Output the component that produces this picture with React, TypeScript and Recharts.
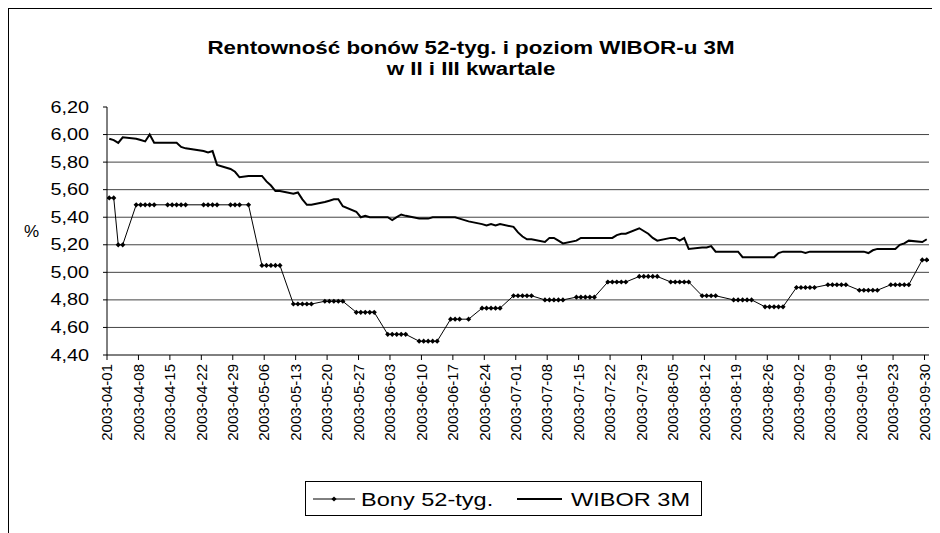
import {
    LineChart,
    Line,
    XAxis,
    YAxis,
    CartesianGrid,
} from "recharts";

// business days 2003-04-01 .. 2003-09-30 (Polish holidays skipped)
const START = Date.UTC(2003, 3, 1);
const DAY = 86400000;
const holidays = ["2003-04-21", "2003-05-01", "2003-06-19", "2003-08-15"];

// Bony 52-tyg., one value per business day, week by week
const bony = [
    5.54, 5.54, 5.2, 5.2,
    5.49, 5.49, 5.49, 5.49, 5.49,
    5.49, 5.49, 5.49, 5.49, 5.49,
    5.49, 5.49, 5.49, 5.49,
    5.49, 5.49, 5.49, 5.49,
    5.05, 5.05, 5.05, 5.05, 5.05,
    4.77, 4.77, 4.77, 4.77, 4.77,
    4.79, 4.79, 4.79, 4.79, 4.79,
    4.71, 4.71, 4.71, 4.71, 4.71,
    4.55, 4.55, 4.55, 4.55, 4.55,
    4.5, 4.5, 4.5, 4.5, 4.5,
    4.66, 4.66, 4.66, 4.66,
    4.74, 4.74, 4.74, 4.74, 4.74,
    4.83, 4.83, 4.83, 4.83, 4.83,
    4.8, 4.8, 4.8, 4.8, 4.8,
    4.82, 4.82, 4.82, 4.82, 4.82,
    4.93, 4.93, 4.93, 4.93, 4.93,
    4.97, 4.97, 4.97, 4.97, 4.97,
    4.93, 4.93, 4.93, 4.93, 4.93,
    4.83, 4.83, 4.83, 4.83,
    4.8, 4.8, 4.8, 4.8, 4.8,
    4.75, 4.75, 4.75, 4.75, 4.75,
    4.89, 4.89, 4.89, 4.89, 4.89,
    4.91, 4.91, 4.91, 4.91, 4.91,
    4.87, 4.87, 4.87, 4.87, 4.87,
    4.91, 4.91, 4.91, 4.91, 4.91,
    5.09, 5.09,
];

// WIBOR 3M
const wibor = [
    5.97, 5.96, 5.94, 5.98,
    5.97, 5.96, 5.95, 6.0, 5.94,
    5.94, 5.94, 5.94, 5.91, 5.9,
    5.88, 5.87, 5.88, 5.78,
    5.75, 5.73, 5.69, 5.7,
    5.7, 5.66, 5.63, 5.59, 5.59,
    5.57, 5.58, 5.53, 5.49, 5.49,
    5.51, 5.52, 5.53, 5.53, 5.48,
    5.44, 5.4, 5.41, 5.4, 5.4,
    5.4, 5.38, 5.4, 5.42, 5.41,
    5.39, 5.39, 5.39, 5.4, 5.4,
    5.4, 5.4, 5.39, 5.37,
    5.35, 5.34, 5.35, 5.34, 5.35,
    5.33, 5.29, 5.26, 5.24, 5.24,
    5.22, 5.25, 5.25, 5.23, 5.21,
    5.23, 5.25, 5.25, 5.25, 5.25,
    5.25, 5.25, 5.27, 5.28, 5.28,
    5.32, 5.3, 5.28, 5.25, 5.23,
    5.25, 5.25, 5.23, 5.25, 5.17,
    5.18, 5.18, 5.19, 5.15,
    5.15, 5.15, 5.11, 5.11, 5.11,
    5.11, 5.11, 5.11, 5.14, 5.15,
    5.15, 5.15, 5.14, 5.15, 5.15,
    5.15, 5.15, 5.15, 5.15, 5.15,
    5.15, 5.15, 5.14, 5.16, 5.17,
    5.17, 5.17, 5.2, 5.21, 5.23,
    5.22, 5.24,
];

const yTicks = [4.4, 4.6, 4.8, 5.0, 5.2, 5.4, 5.6, 5.8, 6.0, 6.2];
const gridValues = [4.6, 4.8, 5.0, 5.2, 5.4, 5.6, 5.8, 6.0];

const iso = (d: number) => new Date(START + d * DAY).toISOString().slice(0, 10);

const days: number[] = [];
for (let d = 0; d <= 182; d++) {
    const wd = new Date(START + d * DAY).getUTCDay();
    if (wd === 0 || wd === 6 || holidays.includes(iso(d))) continue;
    days.push(d);
}

const data = days.map((d, i) => ({
    x: d + 0.5,
    date: iso(d),
    bony: bony[i],
    wibor: wibor[i],
}));

const xTicks: number[] = [];
for (let d = 0; d <= 182; d += 7) xTicks.push(d);

const FONT = "'Liberation Sans', Arial, sans-serif";
const STRETCH = 1.2; // the original picture is a bit wider than tall

const Diamond = (props: any) => {
    const { cx, cy } = props;
    if (cx == null || cy == null) return null;
    return (
        <polygon
            points={`${cx},${cy - 2.6} ${cx + 2.6},${cy} ${cx},${cy + 2.6} ${cx - 2.6},${cy}`}
            fill="#000"
        />
    );
};

const DateTick = (props: any) => {
    const { x, y, payload } = props;
    return (
        <text
            x={x}
            y={y + 2}
            transform={`rotate(-90, ${x}, ${y + 2})`}
            textAnchor="end"
            dy="0.35em"
            fontSize={15}
            fontFamily={FONT}
            fill="#000"
        >
            {iso(payload.value)}
        </text>
    );
};

const ValueTick = (props: any) => {
    const { x, y, payload } = props;
    return (
        <text
            transform={`translate(${x}, ${y}) scale(${STRETCH + 0.04}, 1)`}
            textAnchor="end"
            dy="0.35em"
            fontSize={16}
            fontFamily={FONT}
            fill="#000"
        >
            {payload.value.toFixed(2).replace(".", ",")}
        </text>
    );
};

const LegendBox = () => (
    <svg width={398} height={36} style={{ display: "block" }}>
        <rect x={0.5} y={0.5} width={396} height={34} fill="#fff" stroke="#000" />
        <line x1={8} y1={18} x2={50} y2={18} stroke="#000" strokeWidth={1} />
        <polygon points="29,15.4 31.6,18 29,20.6 26.4,18" fill="#000" />
        <text
            transform={`translate(56, 18) scale(${STRETCH + 0.04}, 1)`}
            dy="0.35em"
            fontSize={19}
            fontFamily={FONT}
        >
            Bony 52-tyg.
        </text>
        <line x1={212} y1={18} x2={257} y2={18} stroke="#000" strokeWidth={2} />
        <text
            transform={`translate(266, 18) scale(${STRETCH + 0.04}, 1)`}
            dy="0.35em"
            fontSize={19}
            fontFamily={FONT}
        >
            WIBOR 3M
        </text>
    </svg>
);

export default function App() {
    return (
        <div
            style={{
                position: "relative",
                width: 924,
                height: 524,
                borderTop: "1px solid #000",
                borderLeft: "1px solid #000",
                borderRight: "1px solid #000",
                background: "#fff",
                fontFamily: FONT,
            }}
        >
            <div
                style={{
                    position: "absolute",
                    top: 29,
                    left: 0,
                    width: 924,
                    textAlign: "center",
                    fontWeight: "bold",
                    fontSize: 18,
                    lineHeight: "21px",
                    transform: `scaleX(${STRETCH + 0.04})`,
                }}
            >
                Rentowność bonów 52-tyg. i poziom WIBOR-u 3M
                <br />w II i III kwartale
            </div>
            <LineChart
                width={924}
                height={524}
                data={data}
                margin={{ top: 98, right: 4, left: 38, bottom: 88 }}
            >
                <CartesianGrid
                    vertical={false}
                    horizontalValues={gridValues}
                    stroke="#444"
                />
                <XAxis
                    dataKey="x"
                    type="number"
                    domain={[0, 183]}
                    ticks={xTicks}
                    interval={0}
                    tick={<DateTick />}
                    tickSize={5}
                    height={90}
                    stroke="#000"
                    allowDataOverflow
                />
                <YAxis
                    domain={[4.4, 6.2]}
                    ticks={yTicks}
                    interval={0}
                    width={60}
                    tickSize={4}
                    tickMargin={14}
                    stroke="#000"
                    tick={<ValueTick />}
                    label={{
                        value: "%",
                        position: "left",
                        offset: 8,
                        fill: "#000",
                        fontSize: 17,
                        fontFamily: FONT,
                    }}
                />
                <Line
                    type="linear"
                    dataKey="wibor"
                    name="WIBOR 3M"
                    stroke="#000"
                    strokeWidth={2}
                    dot={false}
                    isAnimationActive={false}
                />
                <Line
                    type="linear"
                    dataKey="bony"
                    name="Bony 52-tyg."
                    stroke="#000"
                    strokeWidth={1}
                    dot={<Diamond />}
                    isAnimationActive={false}
                />
            </LineChart>
            <div style={{ position: "absolute", left: 296, top: 472 }}>
                <LegendBox />
            </div>
        </div>
    );
}
